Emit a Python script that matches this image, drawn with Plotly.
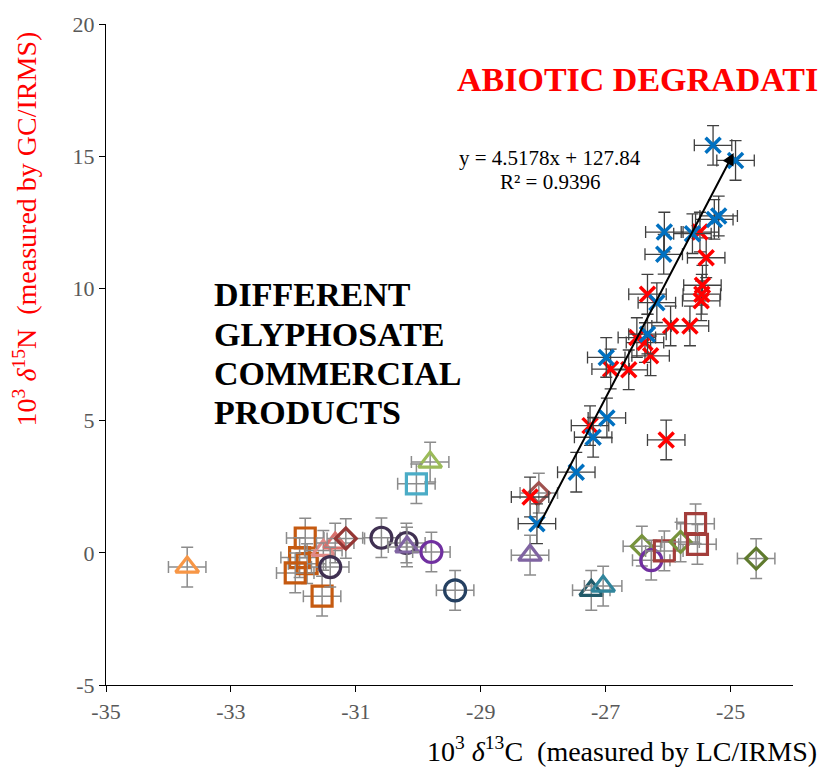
import plotly.graph_objects as go

# --- Abiotic degradation experiments (delta13C, delta15N) ---
blue_x = [-25.28, -24.92, -25.19, -25.26, -26.06, -25.61, -26.07, -26.18, -26.33,
          -26.99, -26.98, -27.20, -27.47, -28.10]
blue_y = [15.41, 14.84, 12.74, 12.61, 12.13, 12.07, 11.29, 9.46, 8.27,
          7.39, 5.10, 4.37, 3.05, 1.10]

red_x = [-25.49, -25.39, -25.45, -25.46, -25.47, -26.33, -26.50, -26.37, -25.96,
         -25.65, -26.28, -26.92, -26.63, -27.25, -26.03, -28.21]
red_y = [12.13, 11.16, 10.12, 9.78, 9.53, 9.78, 8.14, 7.95, 8.58,
         8.58, 7.45, 6.95, 6.92, 4.81, 4.27, 2.11]

# --- Commercial glyphosate products: (x, y, symbol, colour) ---
prod_x = [-33.70, -31.81, -31.90, -31.78, -31.97, -31.54, -31.52, -31.33, -31.16,
          -31.41, -30.59, -30.19, -30.18, -29.79, -29.41, -28.21, -27.23, -27.04,
          -26.42, -26.27, -26.06, -25.80, -25.56, -25.53, -24.59, -29.81, -30.03,
          -28.07]
prod_y = [-0.54, 0.56, -0.18, -0.41, -0.76, -1.64, 0.09, 0.37, 0.54,
          -0.54, 0.57, 0.37, 0.22, 0.03, -1.42, -0.09, -1.42, -1.26,
          0.25, -0.28, 0.07, 0.41, 1.10, 0.32, -0.22, 3.43, 2.61,
          2.26]
prod_symbol = ["triangle-up-open", "square-open", "square-open", "square-open", "square-open",
               "square-open", "triangle-up-open", "triangle-up-open", "diamond-open",
               "circle-open", "circle-open", "circle-open", "triangle-up-open", "circle-open",
               "circle-open", "triangle-up-open", "triangle-up-open", "triangle-up-open",
               "diamond-open", "circle-open", "square-open", "diamond-open", "square-open",
               "square-open", "diamond-open", "triangle-up-open", "square-open",
               "diamond-open"]
prod_color = ["#F79646", "#C55A11", "#C55A11", "#C55A11", "#C55A11", "#C55A11", "#E08A87",
              "#D9706C", "#953735", "#403152", "#403152", "#403152", "#8064A2", "#7030A0",
              "#254061", "#8064A2", "#215968", "#31859C", "#77933C", "#7030A0", "#A33E3B",
              "#77933C", "#A33E3B", "#A33E3B", "#5F7A2E", "#9BBB59", "#4BACC6",
              "#A0524F"]

# error bars (same for all measurements)
err_c = 0.30
err_n = 0.75

# linear fit shown on the chart
slope = 4.5178
intercept = 127.84
fit_x = [-28.10, -24.95]

x_ticks = [-35, -33, -31, -29, -27, -25]
y_ticks = [-5, 0, 5, 10, 15, 20]

product_lines = ["DIFFERENT", "GLYPHOSATE", "COMMERCIAL", "PRODUCTS"]

SERIF = "Liberation Serif, Times New Roman, serif"
SIZES = {"square-open": 20, "circle-open": 21, "triangle-up-open": 20, "diamond-open": 16}

fig = go.Figure()

# commercial products, one trace per marker so each keeps its own style
for xv, yv, sym, col in zip(prod_x, prod_y, prod_symbol, prod_color):
    fig.add_trace(go.Scatter(
        x=[xv], y=[yv], mode="markers",
        marker=dict(symbol=sym, size=SIZES[sym], color=col, line=dict(color=col, width=3.2)),
        error_x=dict(type="constant", value=err_c, color="#8C8C8C", thickness=1.5, width=6),
        error_y=dict(type="constant", value=err_n, color="#8C8C8C", thickness=1.5, width=6),
        showlegend=False, hoverinfo="skip",
    ))

# abiotic degradation series
for xs, ys, col in [(red_x, red_y, "#FF0000"), (blue_x, blue_y, "#0070C0")]:
    fig.add_trace(go.Scatter(
        x=xs, y=ys, mode="markers",
        marker=dict(symbol="x-thin", size=15, color=col, line=dict(color=col, width=3.5)),
        error_x=dict(type="constant", value=err_c, color="#404040", thickness=1.3, width=6),
        error_y=dict(type="constant", value=err_n, color="#404040", thickness=1.3, width=6),
        showlegend=False, hoverinfo="skip",
    ))

# regression line drawn as an arrow
fit_y = [slope * v + intercept for v in fit_x]
fig.add_annotation(
    x=fit_x[1], y=fit_y[1], ax=fit_x[0], ay=fit_y[0],
    xref="x", yref="y", axref="x", ayref="y",
    showarrow=True, arrowhead=2, arrowsize=1.2, arrowwidth=2, arrowcolor="#000000", text="",
)

# fit equation and R², placed in pixel coordinates (converted below)
for txt, py in [(f"y = {slope}x + {intercept}", 156), ("R² = 0.9396", 180)]:
    fig.add_annotation(
        x=550, y=py, xref="paper", yref="paper", showarrow=False, text=txt,
        font=dict(family=SERIF, size=21, color="#000000"),
        xanchor="center", yanchor="middle",
    )

fig.add_annotation(
    x=455, y=78, xref="paper", yref="paper", showarrow=False,
    text="<b>ABIOTIC DEGRADATI</b>",
    font=dict(family=SERIF, size=34, color="#FF0000"),
    xanchor="left", yanchor="middle",
)

for txt, py in zip(product_lines, [293, 333, 373, 412]):
    fig.add_annotation(
        x=212, y=py, xref="paper", yref="paper", showarrow=False,
        text=f"<b>{txt}</b>",
        font=dict(family=SERIF, size=34, color="#000000"),
        xanchor="left", yanchor="middle",
    )

# axis titles
fig.add_annotation(
    x=25, y=228, xref="paper", yref="paper", showarrow=False, textangle=-90,
    text="10<sup>3</sup> <i>δ</i><sup>15</sup>N&nbsp; (measured by GC/IRMS)",
    font=dict(family=SERIF, size=28, color="#FF0000"),
    xanchor="center", yanchor="middle",
)
fig.add_annotation(
    x=622, y=750, xref="paper", yref="paper", showarrow=False,
    text="10<sup>3</sup> <i>δ</i><sup>13</sup>C&nbsp; (measured by LC/IRMS)",
    font=dict(family=SERIF, size=28, color="#000000"),
    xanchor="center", yanchor="middle",
)

# convert pixel-placed annotations to paper coordinates
L, R, T, B, W, H = 106, 34, 22, 82, 827, 767
pw, ph = W - L - R, H - T - B
for ann in fig.layout.annotations:
    if ann.xref == "paper":
        ann.x = (ann.x - L) / pw
        ann.y = (H - B - ann.y) / ph

fig.update_layout(
    width=W, height=H,
    margin=dict(l=L, r=R, t=T, b=B, pad=0),
    paper_bgcolor="white", plot_bgcolor="white",
    font=dict(family=SERIF),
    xaxis=dict(range=[-35, -24], tickvals=x_ticks, ticktext=[str(v) for v in x_ticks],
               ticks="outside", ticklen=6,
               tickcolor="#000000", showline=True, linecolor="#000000", linewidth=1.2,
               showgrid=False, zeroline=False,
               tickfont=dict(family=SERIF, size=22, color="#595959")),
    yaxis=dict(range=[-5, 20], tickvals=y_ticks, ticktext=[str(v) for v in y_ticks],
               ticks="outside", ticklen=6,
               tickcolor="#000000", showline=True, linecolor="#000000", linewidth=1.2,
               showgrid=False, zeroline=False,
               tickfont=dict(family=SERIF, size=22, color="#595959")),
)

fig.write_html("out.html")
